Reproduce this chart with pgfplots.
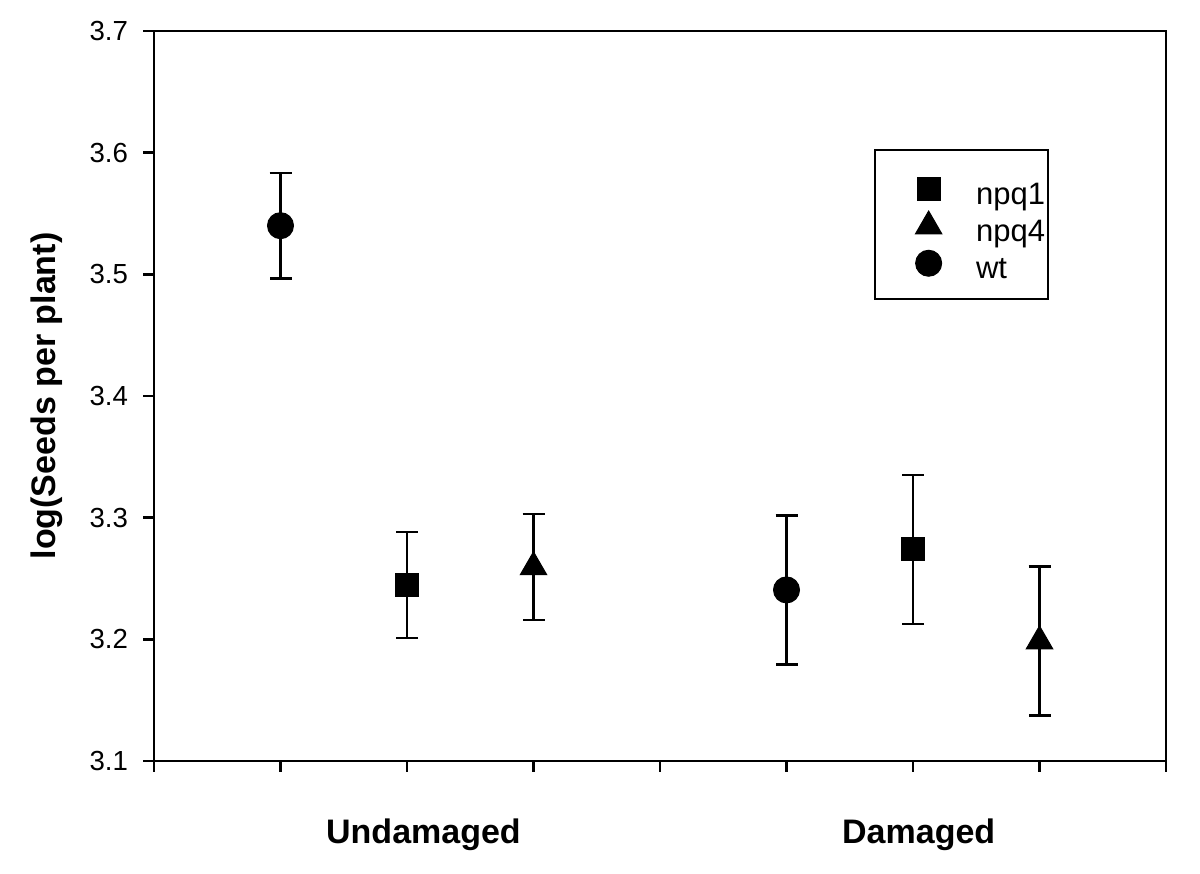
\documentclass[border=0pt]{standalone}
\usepackage{fontspec}
\setmainfont{Liberation Sans}
\usepackage{pgfplots}
\pgfplotsset{compat=1.18}
\begin{document}
\begin{tikzpicture}
\begin{axis}[
  scale only axis,
  width=506pt, height=365pt,
  xmin=0, xmax=8, ymin=3.1, ymax=3.7,
  xtick={0,1,...,8}, xticklabels={},
  ytick={3.1,3.2,3.3,3.4,3.5,3.6,3.7},
  yticklabel style={/pgf/number format/fixed, /pgf/number format/fixed zerofill, /pgf/number format/precision=1, xshift=-4pt},
  /pgf/number format/assume math mode=true,
  tick label style={font=\fontsize{13.8}{16}\selectfont},
  tick align=outside, xtick pos=left, ytick pos=left,
  major tick length=5.5pt,
  every tick/.style={black, line width=1.25pt},
  axis line style={line width=1.25pt},
  clip=false,
  legend style={at={(rel axis cs:0.7115,0.838)}, anchor=north west,
    draw=black, line width=1pt, inner xsep=0pt, inner ysep=9.5pt,
    row sep=0pt, column sep=0pt,
    cells={anchor=base west},
    nodes={inner sep=0pt, text height=0pt, text depth=0pt}},
  legend image code/.code={\path[draw=none, fill=none] (-26.8pt,-1pt) rectangle (23.7pt,17.5pt); \draw[#1] plot coordinates {(0pt,7.5pt)};},
  error bars/error bar style={line width=1.25pt, black},
  error bars/error mark options={rotate=90, mark size=5.5pt, line width=1.25pt, black},
]
\addplot[only marks, mark=square*, mark size=5.75pt, black, mark options={fill=black, line width=0.5pt},
  error bars/.cd, y dir=both, y explicit]
  coordinates {(2,3.2445) +- (0,0.0436) (6,3.2739) +- (0,0.0613)};
\addlegendentry{\makebox[36pt][l]{\fontsize{15.5}{17}\selectfont npq1}}
\addplot[only marks, mark=triangle*, mark size=7.6pt, black, mark options={fill=black, line width=0.5pt},
  error bars/.cd, y dir=both, y explicit]
  coordinates {(3,3.2594) +- (0,0.0435) (7,3.1985) +- (0,0.0612)};
\addlegendentry{\makebox[36pt][l]{\fontsize{15.5}{17}\selectfont npq4}}
\addplot[only marks, mark=*, mark size=6.5pt, black, mark options={fill=black, line width=0.5pt},
  error bars/.cd, y dir=both, y explicit]
  coordinates {(1,3.5400) +- (0,0.0433) (5,3.2406) +- (0,0.0611)};
\addlegendentry{\makebox[36pt][l]{\fontsize{15.5}{17}\selectfont wt}}
\node[anchor=base, yshift=-41.5pt, font=\fontsize{17}{19}\selectfont\bfseries] at (axis cs:2.13,3.1) {Undamaged};
\node[anchor=base, yshift=-41.5pt, font=\fontsize{17}{19}\selectfont\bfseries] at (axis cs:6.045,3.1) {Damaged};
\end{axis}
\node[rotate=90, anchor=base, font=\fontsize{17}{19}\selectfont\bfseries] at ([xshift=-49pt]current axis.west) {log(Seeds per plant)};
\pgfresetboundingbox
\path[use as bounding box] ([xshift=-77pt,yshift=-56.5pt]current axis.south west) rectangle ([xshift=17pt,yshift=15.5pt]current axis.north east);
\end{tikzpicture}
\end{document}
